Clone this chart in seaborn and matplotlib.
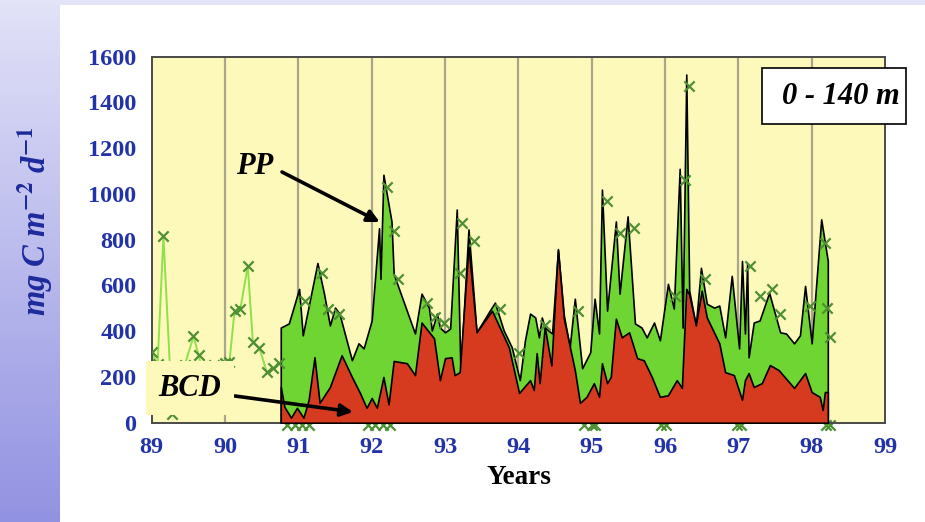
import numpy as np
import pandas as pd
import matplotlib
matplotlib.use("Agg")
import matplotlib.pyplot as plt
from matplotlib.patches import Rectangle
import seaborn as sns

# ---------------- data (years, mg C m-2 d-1) ----------------
pp_years = [90.76, 90.87, 91.01, 91.06, 91.26, 91.35, 91.43, 91.50, 91.56, 91.73,
            91.82, 91.89, 92.00, 92.10, 92.12, 92.16, 92.27, 92.30, 92.59, 92.68,
            92.78, 92.82, 92.89, 92.93, 93.00, 93.07, 93.16, 93.21, 93.32, 93.43,
            93.61, 93.68, 93.80, 93.91, 94.02, 94.09, 94.16, 94.23, 94.28, 94.32,
            94.36, 94.46, 94.54, 94.62, 94.70, 94.77, 94.87, 94.98, 95.04, 95.10,
            95.14, 95.21, 95.33, 95.38, 95.49, 95.59, 95.68, 95.75, 95.85, 95.93,
            96.04, 96.12, 96.20, 96.24, 96.29, 96.33, 96.42, 96.49, 96.57, 96.67,
            96.74, 96.82, 96.91, 97.01, 97.05, 97.09, 97.12, 97.14, 97.21, 97.29,
            97.42, 97.57, 97.65, 97.76, 97.84, 97.91, 98.00, 98.13, 98.22]
pp_vals = [416, 434, 585, 382, 698, 564, 425, 503, 477, 273,
           347, 325, 447, 850, 629, 1084, 880, 650, 390, 564,
           503, 403, 477, 416, 395, 412, 932, 221, 845, 395,
           490, 525, 403, 330, 186, 360, 477, 460, 373, 460,
           416, 390, 755, 470, 330, 542, 238, 308, 542, 390,
           1019, 490, 880, 564, 902, 434, 416, 373, 438, 360,
           607, 499, 1110, 416, 1522, 577, 425, 677, 520, 503,
           512, 373, 642, 325, 707, 390, 698, 286, 438, 447,
           568, 395, 390, 347, 382, 598, 347, 889, 707]

bcd_years = [90.76, 90.81, 90.90, 90.98, 91.07, 91.14, 91.22, 91.29, 91.43, 91.59,
             91.73, 91.84, 91.93, 92.00, 92.07, 92.16, 92.23, 92.30, 92.48, 92.59,
             92.68, 92.85, 92.93, 93.00, 93.09, 93.13, 93.20, 93.32, 93.43, 93.64,
             93.87, 94.01, 94.09, 94.16, 94.21, 94.25, 94.29, 94.36, 94.45, 94.54,
             94.62, 94.77, 94.84, 94.93, 95.03, 95.10, 95.14, 95.21, 95.26, 95.33,
             95.41, 95.51, 95.62, 95.71, 95.82, 95.93, 96.04, 96.16, 96.23, 96.29,
             96.33, 96.42, 96.50, 96.57, 96.74, 96.82, 96.94, 97.05, 97.09, 97.14,
             97.21, 97.32, 97.43, 97.55, 97.76, 97.91, 98.00, 98.11, 98.15, 98.18, 98.22]
bcd_vals = [156, 69, 22, 65, 22, 100, 286, 87, 156, 295,
            200, 130, 65, 108, 65, 200, 80, 270, 260, 208,
            438, 369, 186, 282, 286, 208, 221, 772, 395, 490,
            330, 130, 160, 186, 143, 304, 173, 420, 250, 759,
            455, 230, 87, 113, 173, 113, 260, 173, 200, 455,
            373, 395, 282, 273, 200, 113, 120, 186, 152, 585,
            560, 425, 577, 460, 347, 221, 208, 100, 186, 217,
            156, 173, 252, 230, 152, 217, 134, 113, 56, 134, 134]

# early PP observations (x markers joined by a light line)
obs_years = [89.00, 89.08, 89.16, 89.28, 89.45, 89.57, 89.64, 89.75, 89.85, 90.00,
             90.06, 90.13, 90.21, 90.31, 90.38, 90.47, 90.57, 90.66, 90.73]
obs_vals = [308, 255, 815, 40, 252, 377, 295, 150, 252, 260,
            265, 490, 499, 685, 351, 325, 221, 238, 260]

# PP observations within the filled period
fm_years = [91.09, 91.32, 91.41, 91.56, 92.21, 92.31, 92.36, 92.75, 92.86, 92.98,
            93.20, 93.23, 93.39, 93.75, 94.01, 94.36, 94.82, 95.21, 95.38, 95.58,
            96.14, 96.27, 96.33, 96.55, 97.16, 97.29, 97.46, 97.57, 97.98, 98.18,
            98.21, 98.25]
fm_vals = [533, 655, 499, 477, 1032, 837, 629, 525, 460, 434,
           655, 872, 794, 499, 304, 425, 490, 967, 828, 850,
           555, 1062, 1474, 629, 685, 555, 585, 477, 512, 785,
           503, 373]

# observations near zero along the bottom
zero_years = [90.85, 90.95, 91.05, 91.15, 91.95, 92.05, 92.15, 92.25, 94.90,
              95.00, 95.05, 95.95, 96.02, 96.98, 97.03, 98.20, 98.25]
zero_vals = [-12, -12, -12, -12, -12, -12, -12, -12, -12,
             -12, -12, -12, -12, -12, -12, -12, -12]

x_ticks = [89, 90, 91, 92, 93, 94, 95, 96, 97, 98, 99]
x_labels = ["89", "90", "91", "92", "93", "94", "95", "96", "97", "98", "99"]
y_ticks = [0, 200, 400, 600, 800, 1000, 1200, 1400, 1600]
y_labels = ["0", "200", "400", "600", "800", "1000", "1200", "1400", "1600"]

# ---------------- style ----------------
sns.set_theme(style="white")
plt.rcParams["font.family"] = ["Liberation Serif", "DejaVu Serif"]
plt.rcParams["mathtext.fontset"] = "stix"

W, H = 925, 522
fig = plt.figure(figsize=(W / 100, H / 100), dpi=100)
fig.patch.set_facecolor("white")

# lavender gradient band on the left and thin strip on top
grad = np.linspace(0, 1, 256).reshape(-1, 1)
top_c = np.array([226, 226, 248]) / 255
bot_c = np.array([146, 146, 226]) / 255
img = top_c[None, None, :] * (1 - grad[:, :, None]) + bot_c[None, None, :] * grad[:, :, None]
gax = fig.add_axes([0, 0, 60 / W, 1])
gax.imshow(img, aspect="auto", extent=[0, 1, 0, 1])
gax.set_axis_off()
tax = fig.add_axes([0, 1 - 5 / H, 1, 5 / H])
tax.set_facecolor((228 / 255, 228 / 255, 248 / 255))
tax.set_xticks([]); tax.set_yticks([])
for s in tax.spines.values():
    s.set_visible(False)

# main axes
ax = fig.add_axes([151.7 / W, 1 - 422.7 / H, (885 - 151.7) / W, 366 / H])
ax.set_facecolor("#fdf9bb")
ax.set_xlim(89, 99)
ax.set_ylim(0, 1600)
for yr in x_ticks[1:-1]:
    ax.axvline(yr, color="#aaa68c", lw=1.6, zorder=0.5)

# light line of early observations
sns.lineplot(x=obs_years, y=obs_vals, ax=ax, color="#8fe04c", lw=1.4,
             estimator=None, sort=False, zorder=2, legend=False)

# PP and BCD areas
ax.fill_between(pp_years, pp_vals, 0, facecolor="#6fd532", edgecolor="black",
                lw=1.2, zorder=3)
ax.fill_between(bcd_years, bcd_vals, 0, facecolor="#d63b1f", edgecolor="black",
                lw=1.2, zorder=3.5)

# x markers
mk = dict(marker="x", color="#4f8f34", s=55, linewidth=1.6, ax=ax, legend=False)
sns.scatterplot(x=obs_years, y=obs_vals, zorder=4, **mk)
sns.scatterplot(x=fm_years, y=fm_vals, zorder=4, **mk)
sns.scatterplot(x=zero_years, y=zero_vals, zorder=1.5, **mk)
ax.collections[-1].set_clip_on(False)

# frame & ticks
for s in ax.spines.values():
    s.set_color("#4a4a4a")
    s.set_linewidth(1.4)
ax.set_xticks(x_ticks)
ax.set_xticklabels(x_labels)
ax.set_yticks(y_ticks)
ax.set_yticklabels(y_labels)
ax.tick_params(axis="both", length=0, labelsize=17.5, labelcolor="#2233aa")
ax.tick_params(axis="x", pad=10)
ax.tick_params(axis="y", pad=11)
for lab in ax.get_xticklabels() + ax.get_yticklabels():
    lab.set_fontweight("bold")
ax.set_xlabel("")
ax.set_ylabel("")

# axis titles
fig.text(519 / W, 1 - 478 / H, "Years", ha="center", va="center",
         fontsize=19.5, fontweight="bold", color="black")
fig.text(35 / W, 1 - 221 / H, r"mg C m$^{\mathbf{-2}}$ d$^{\mathbf{-1}}$",
         rotation=90, ha="center", va="center", fontsize=23.5,
         fontweight="bold", fontstyle="italic", color="#1c2a9c")

# depth box
fig.add_artist(Rectangle((762 / W, 1 - 124 / H), 144 / W, 56 / H,
                         transform=fig.transFigure, facecolor="white",
                         edgecolor="black", lw=1.2, zorder=5))
fig.text(841 / W, 1 - 97 / H, "0 - 140 m", ha="center", va="center",
         fontsize=22, fontweight="bold", fontstyle="italic", color="black", zorder=6)

# PP label and arrow
fig.text(255 / W, 1 - 167 / H, "PP", ha="center", va="center",
         fontsize=22, fontweight="bold", fontstyle="italic", color="black")
ax.annotate("", xy=(92.11, 877), xycoords="data",
            xytext=(282 / W, 1 - 172 / H), textcoords="figure fraction",
            arrowprops=dict(arrowstyle="-|>", lw=2.6, color="black",
                            mutation_scale=18, shrinkA=0, shrinkB=0),
            zorder=6, annotation_clip=False)

# BCD label and arrow
fig.text(190 / W, 1 - 388 / H, "BCD", ha="center", va="center",
         fontsize=22, fontweight="bold", fontstyle="italic", color="black",
         bbox=dict(boxstyle="square,pad=0.42", facecolor="#fdf9bb", edgecolor="none"),
         zorder=6)
ax.annotate("", xy=(91.745, 47), xycoords="data",
            xytext=(235 / W, 1 - 396 / H), textcoords="figure fraction",
            arrowprops=dict(arrowstyle="-|>", lw=2.6, color="black",
                            mutation_scale=18, shrinkA=0, shrinkB=0),
            zorder=6, annotation_clip=False)

fig.savefig("out.png", dpi=100, facecolor="white")
